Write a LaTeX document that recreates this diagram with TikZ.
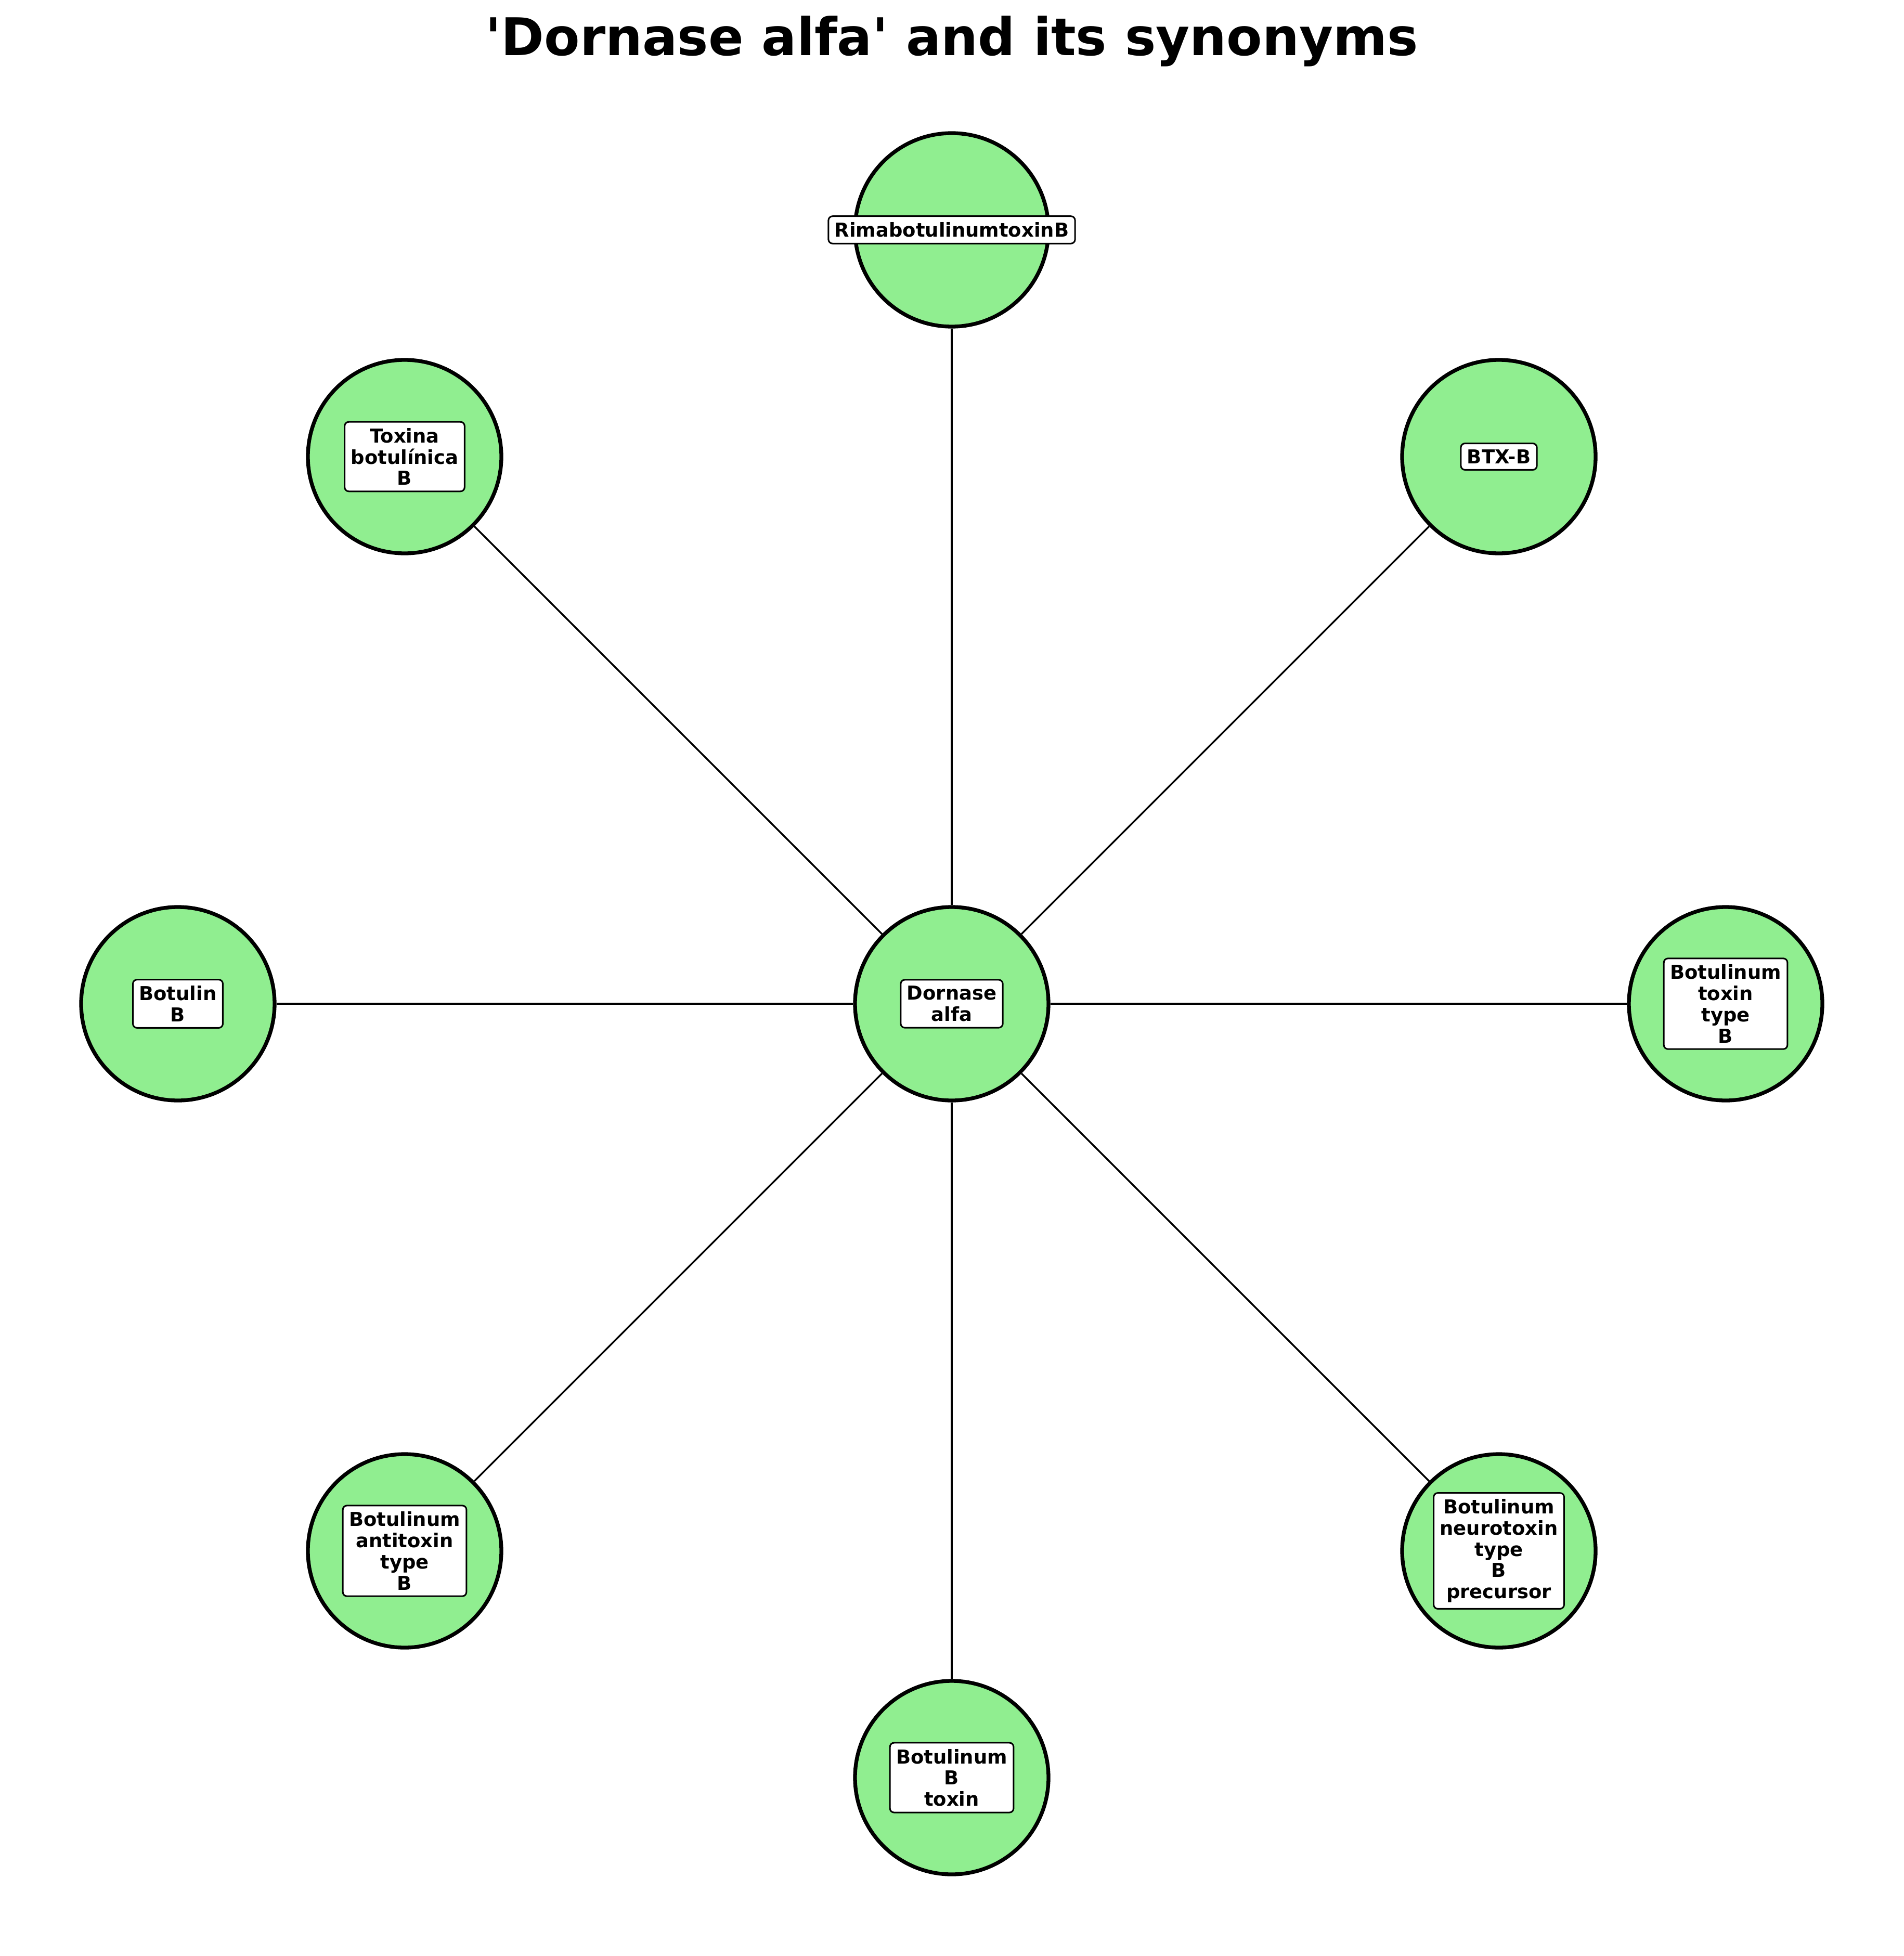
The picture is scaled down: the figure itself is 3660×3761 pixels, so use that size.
\documentclass[tikz,border=0pt]{standalone}
\usepackage{fontspec}
\setmainfont{DejaVu Sans}[Ligatures=TeXOff]
\begin{document}
\begin{tikzpicture}[x=0.1mm,y=-0.1mm]
\tikzstyle{drug}=[circle,draw,line width=0.73mm,fill={rgb,255:red,144;green,238;blue,144},minimum size=37.2mm,inner sep=0pt]
\tikzstyle{tag}=[draw,fill=white,rounded corners=0.8mm,line width=0.3mm,inner sep=1.2mm,align=center,font=\bfseries\fontsize{10.5pt}{11.6pt}\selectfont]
\tikzstyle{link}=[line width=0.33mm]
\useasboundingbox (0,0) rectangle (3660,3761);

\node[anchor=base,font=\bfseries\fontsize{28.4pt}{34pt}\selectfont] (title) at (1830,107) {'Dornase alfa' and its synonyms};

% circles
\node[drug] (dornase) at (1830,1930) {};
\node[drug] (rima) at (1830,442) {};
\node[drug] (btx) at (2882,878) {};
\node[drug] (toxtype) at (3318,1930) {};
\node[drug] (neuro) at (2882,2982) {};
\node[drug] (btoxin) at (1830,3418) {};
\node[drug] (anti) at (778,2982) {};
\node[drug] (botulin) at (342,1930) {};
\node[drug] (toxina) at (778,878) {};

% spokes
\draw[link] (dornase) -- (rima);
\draw[link] (dornase) -- (btx);
\draw[link] (dornase) -- (toxtype);
\draw[link] (dornase) -- (neuro);
\draw[link] (dornase) -- (btoxin);
\draw[link] (dornase) -- (anti);
\draw[link] (dornase) -- (botulin);
\draw[link] (dornase) -- (toxina);

% labels
\node[tag] (dornase-t) at (dornase) {Dornase\\alfa};
\node[tag] (rima-t) at (rima) {RimabotulinumtoxinB};
\node[tag] (btx-t) at (btx) {BTX-B};
\node[tag] (toxtype-t) at (toxtype) {Botulinum\\toxin\\type\\B};
\node[tag] (neuro-t) at (neuro) {Botulinum\\neurotoxin\\type\\B\\precursor};
\node[tag] (btoxin-t) at (btoxin) {Botulinum\\B\\toxin};
\node[tag] (anti-t) at (anti) {Botulinum\\antitoxin\\type\\B};
\node[tag] (botulin-t) at (botulin) {Botulin\\B};
\node[tag] (toxina-t) at (toxina) {Toxina\\botulínica\\B};
\end{tikzpicture}
\end{document}
